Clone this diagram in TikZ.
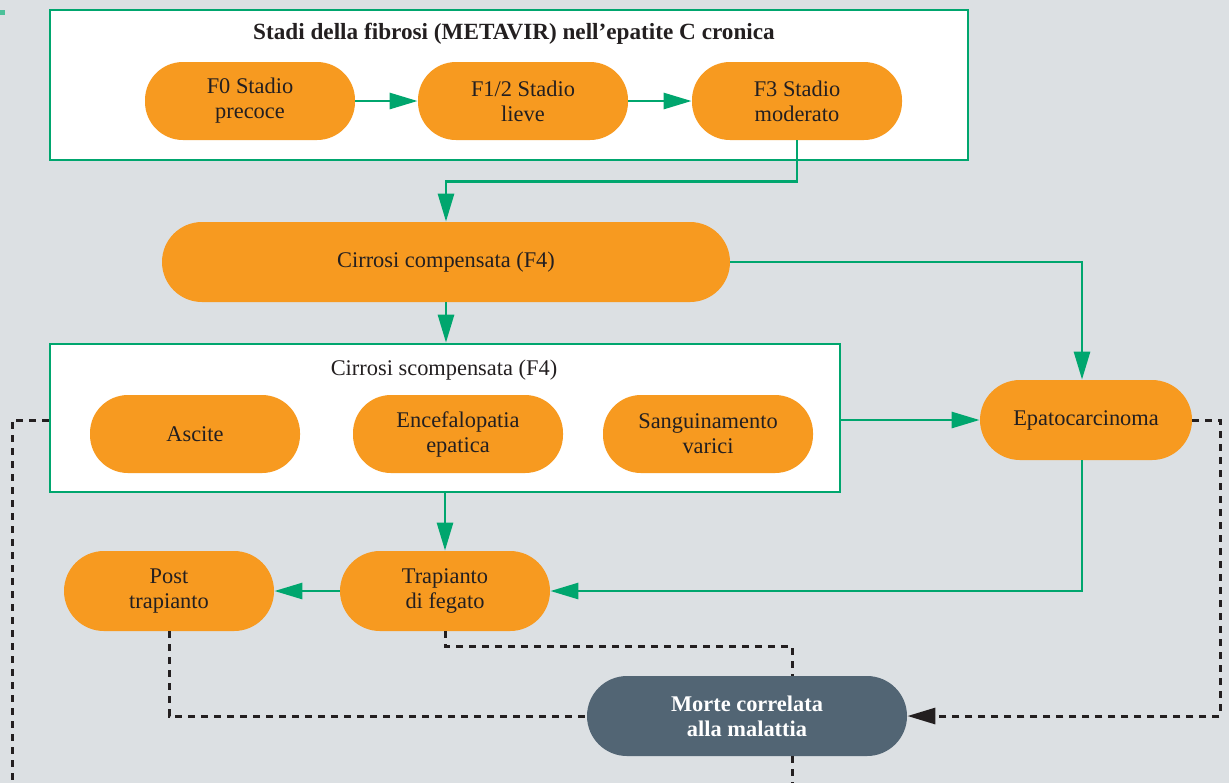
\documentclass[tikz,border=0pt]{standalone}
\usepackage{fontspec}
\setmainfont{Liberation Serif}
\definecolor{fbOrange}{RGB}{247,154,32}
\definecolor{fbGreen}{RGB}{0,166,110}
\definecolor{fbBack}{RGB}{220,224,227}
\definecolor{fbSlate}{RGB}{82,101,116}
\definecolor{fbText}{RGB}{35,31,32}
\usetikzlibrary{shapes,arrows.meta,positioning}

\begin{document}
\begin{tikzpicture}[x=0.5pt,y=-0.5pt,
    stage/.style={fill=fbOrange, text=fbText, rounded corners=19pt, minimum width=105pt, minimum height=39pt, align=center, font=\fontsize{11.2}{12.5}\selectfont},
    frame/.style={draw=fbGreen, fill=white, line width=1.3pt},
    flow/.style={draw=fbGreen, line width=1.4pt, -{Triangle[length=14pt,width=8pt]}},
    fate/.style={draw=fbText, line width=1.5pt, dash pattern=on 3.5pt off 3pt},
]
    % background and page margins
    \useasboundingbox (0,0) rectangle (1229,783);
    \fill[fbBack] (0,0) rectangle (1229,783);
    \fill[fbGreen!70] (0,10) rectangle (5,15);

    % fibrosis stages
    \node[frame, minimum width=459pt, minimum height=75pt] (fibrosi) at (509,85) {};
    \node[text=fbText, font=\bfseries\fontsize{11.6}{12}\selectfont] (titolo) at (514,34) {Stadi della fibrosi (METAVIR) nell’epatite C cronica};
    \node[stage] (f0) at (250,101) {F0 Stadio\\precoce};
    \node[stage] (f12) at (523,101) {F1/2 Stadio\\lieve};
    \node[stage] (f3) at (797,101) {F3 Stadio\\moderato};

    % cirrhosis
    \node[stage, minimum width=284pt, minimum height=40pt, rounded corners=20pt] (comp) at (446,262) {Cirrosi compensata (F4)};
    \node[frame, minimum width=395pt, minimum height=74pt] (scomp) at (445,418) {};
    \node[text=fbText, font=\fontsize{11.2}{12}\selectfont] (scompLabel) at (444,370) {Cirrosi scompensata (F4)};
    \node[stage] (ascite) at (195,434) {Ascite};
    \node[stage] (encef) at (458,434) {Encefalopatia\\epatica};
    \node[stage] (sangu) at (708,434) {Sanguinamento\\varici};

    % outcomes
    \node[stage, minimum width=106pt, minimum height=40pt, rounded corners=20pt] (epato) at (1086,420) {Epatocarcinoma};
    \node[stage, minimum height=40pt, rounded corners=20pt] (trap) at (445,591) {Trapianto\\di fegato};
    \node[stage, minimum height=40pt, rounded corners=20pt] (post) at (169,591) {Post\\trapianto};
    \node[stage, fill=fbSlate, text=white, minimum width=160pt, minimum height=40pt, rounded corners=20pt, font=\bfseries\fontsize{11.2}{12.5}\selectfont] (morte) at (747,716) {Morte correlata\\alla malattia};

    \coordinate (fineSx) at (12,783);
    \coordinate (fineGiu) at (792,783);

    % green progression arrows
    \draw[flow] (f0) -- (f12);
    \draw[flow] (f12) -- (f3);
    \draw[flow] (f3.south) -- ++(0,41) -| (comp.north);
    \draw[flow] (comp.south) -- (comp.south |- scomp.north);
    \draw[flow] (comp.east) -| ([xshift=-2pt]epato.north);
    \draw[flow] (scomp.east |- epato) -- (epato);
    \draw[flow] (scomp.south -| trap) -- (trap);
    \draw[flow] ([xshift=-2pt]epato.south) |- (trap.east);
    \draw[flow] (trap) -- (post);

    % dotted lines to death
    \draw[fate] (scomp.west |- epato) -| (fineSx);
    \draw[fate, -{Triangle[length=14pt,width=8pt]}] (epato.east) -- ++(28,0) |- (morte.east);
    \draw[fate] (trap.south) -- ++(0,15) -| (fineGiu |- morte.north);
    \draw[fate] (fineGiu |- morte.south) -- (fineGiu);
    \draw[fate] (post.south) |- (morte.west);
\end{tikzpicture}
\end{document}
